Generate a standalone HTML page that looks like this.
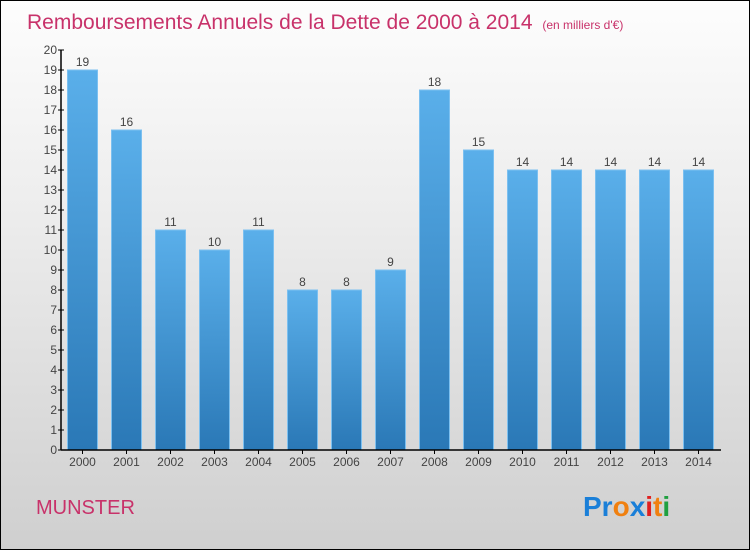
<!DOCTYPE html>
<html><head><meta charset="utf-8"><style>
body{margin:0;width:750px;height:550px;overflow:hidden;font-family:"Liberation Sans",sans-serif;}
#wrap{position:absolute;left:0;top:0;width:748px;height:548px;border:1px solid #000;background:linear-gradient(#fdfdfd,#ececec 40%,#cfcfcf);}
</style></head><body>
<div id="wrap">
<svg width="750" height="550" style="position:absolute;left:-1px;top:-1px" id="chart">
<defs><linearGradient id="bg" x1="0" y1="0" x2="0" y2="1"><stop offset="0" stop-color="#5aafea"/><stop offset="1" stop-color="#2a78b6"/></linearGradient></defs>
<text x="27" y="29" font-size="21" fill="#c8326a">Remboursements Annuels de la Dette de 2000 à 2014 <tspan font-size="12" dx="4">(en milliers d'€)</tspan></text>
<text x="36" y="514" font-size="20" fill="#c8326a">MUNSTER</text>
<text x="583" y="516" font-size="28" font-weight="bold"><tspan fill="#1a7fd8">Pr</tspan><tspan fill="#f08010">o</tspan><tspan fill="#1a7fd8">x</tspan><tspan fill="#e02020">i</tspan><tspan fill="#f08010">t</tspan><tspan fill="#20a040">i</tspan></text>
<g id="bars"></g><g id="axes"></g>
</svg></div>
<script>
const years=["2000","2001","2002","2003","2004","2005","2006","2007","2008","2009","2010","2011","2012","2013","2014"];
const values=[19,16,11,10,11,8,8,9,18,15,14,14,14,14,14];
const yTicks=[0,1,2,3,4,5,6,7,8,9,10,11,12,13,14,15,16,17,18,19,20];
const NS="http://www.w3.org/2000/svg";
const x0=61,x1=721,y0=450,yTop=50,yMax=20;
const step=(x1-x0)/years.length;
const xs=i=>x0+step*(i+0.5)-0.5;
const ys=v=>y0-(y0-yTop)*v/yMax;
function mk(t,a,p){const e=document.createElementNS(NS,t);for(const k in a)e.setAttribute(k,a[k]);p.appendChild(e);return e;}
const bars=document.getElementById('bars'),axes=document.getElementById('axes');
values.forEach((v,i)=>{
 const r=mk('rect',{x:xs(i)-15,y:ys(v),width:30,height:y0-ys(v),fill:'url(#bg)',stroke:'#7cc0f0','stroke-width':1},bars);
 
 
 const t=mk('text',{x:xs(i),y:ys(v)-4,'text-anchor':'middle','font-size':12,fill:'#444'},bars);t.textContent=v;
 
 
 const xl=mk('text',{x:xs(i),y:466,'text-anchor':'middle','font-size':12,fill:'#444'},axes);xl.textContent=years[i];
 
 
 mk('line',{x1:xs(i),x2:xs(i),y1:y0,y2:y0+4,stroke:'#000'},axes);
});
yTicks.forEach(v=>{
 mk('line',{x1:x0-3,x2:x0+3,y1:ys(v),y2:ys(v),stroke:'#000'},axes);
 const t=mk('text',{x:x0-4,y:ys(v)+4,'text-anchor':'end','font-size':12,fill:'#444'},axes);t.textContent=v;
 
 
});
const ya=mk('line',{x1:x0,x2:x0,y1:yTop,y2:y0,stroke:'#000','stroke-width':1.5},axes);


const xa=mk('line',{x1:x0,x2:x1,y1:y0,y2:y0,stroke:'#000','stroke-width':1.5},axes);


</script>
</body></html>
